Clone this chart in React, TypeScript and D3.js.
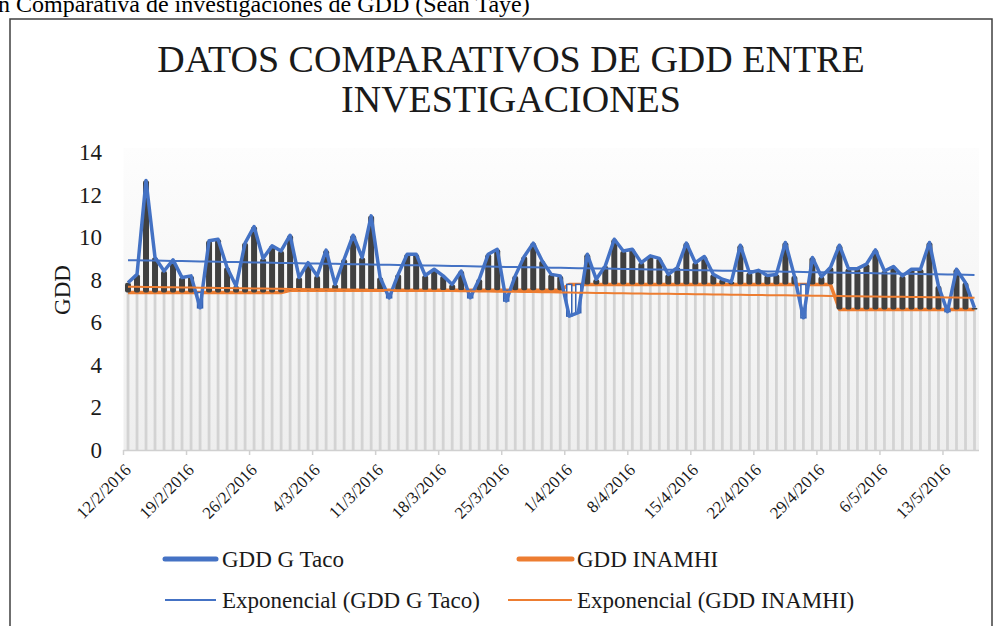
import React from 'react';
import * as d3 from 'd3';

const startDate = new Date(2016, 1, 12);

const tacoValues = [
  7.86, 8.25, 12.66, 9.04, 8.41, 8.93, 8.1, 8.18, 6.68, 9.83,
  9.9, 8.57, 7.7, 9.72, 10.5, 9.0, 9.59, 9.35, 10.09, 8.1,
  8.8, 8.18, 9.39, 7.78, 8.96, 10.09, 9.04, 11.0, 8.1, 7.15,
  8.25, 9.2, 9.2, 8.2, 8.49, 8.18, 7.78, 8.41, 7.15, 8.02,
  9.2, 9.43, 7.0, 8.18, 9.09, 9.72, 8.88, 8.25, 8.18, 6.29,
  6.45, 9.2, 8.02, 8.65, 9.9, 9.35, 9.43, 8.8, 9.12, 9.0,
  8.25, 8.57, 9.72, 8.8, 9.09, 8.25, 8.02, 7.9, 9.62, 8.33,
  8.44, 8.2, 8.25, 9.75, 8.18, 6.21, 9.04, 8.14, 8.57, 9.62,
  8.52, 8.52, 8.73, 9.4, 8.41, 8.62, 8.18, 8.49, 8.49, 9.75,
  7.7, 6.5, 8.49, 7.86, 6.68,
];

const inamhiValues = [
  7.4, 7.4, 7.4, 7.4, 7.4, 7.4, 7.4, 7.4, 7.4, 7.4,
  7.4, 7.4, 7.4, 7.4, 7.4, 7.4, 7.4, 7.4, 7.5, 7.5,
  7.5, 7.5, 7.5, 7.5, 7.5, 7.5, 7.5, 7.5, 7.5, 7.5,
  7.5, 7.5, 7.5, 7.5, 7.5, 7.5, 7.5, 7.5, 7.5, 7.5,
  7.5, 7.5, 7.5, 7.5, 7.5, 7.5, 7.5, 7.5, 7.5, 7.78,
  7.78, 7.78, 7.78, 7.78, 7.78, 7.78, 7.78, 7.78, 7.78, 7.78,
  7.78, 7.78, 7.78, 7.78, 7.78, 7.78, 7.78, 7.78, 7.78, 7.78,
  7.78, 7.78, 7.78, 7.78, 7.78, 7.78, 7.78, 7.78, 7.78, 6.6,
  6.6, 6.6, 6.6, 6.6, 6.6, 6.6, 6.6, 6.6, 6.6, 6.6,
  6.6, 6.6, 6.6, 6.6, 6.6,
];

const tickLabels = [
  '12/2/2016', '19/2/2016', '26/2/2016', '4/3/2016', '11/3/2016', '18/3/2016', '25/3/2016',
  '1/4/2016', '8/4/2016', '15/4/2016', '22/4/2016', '29/4/2016', '6/5/2016', '13/5/2016',
];

const yTicks = [0, 2, 4, 6, 8, 10, 12, 14];

const seriesNames = ['GDD G Taco', 'GDD INAMHI'];
const trendNames = ['Exponencial (GDD G Taco)', 'Exponencial (GDD INAMHI)'];

const BLUE = '#4472C4';
const ORANGE = '#ED7D31';
const FONT = "'Liberation Serif', 'Times New Roman', 'DejaVu Serif', serif";
const tf = { fontFamily: FONT };

function expFit(vals: number[]) {
  const n = vals.length;
  let sx = 0, sy = 0, sxx = 0, sxy = 0;
  vals.forEach((v, i) => {
    const ly = Math.log(v);
    sx += i; sy += ly; sxx += i * i; sxy += i * ly;
  });
  const b = (n * sxy - sx * sy) / (n * sxx - sx * sx);
  const lnA = (sy - b * sx) / n;
  return vals.map((_, i) => Math.exp(lnA + b * i));
}

export default function App() {
  const n = tacoValues.length;
  const x = d3.scaleTime()
    .domain([startDate, d3.timeDay.offset(startDate, n)])
    .range([123.5, 979]);
  const y = d3.scaleLinear().domain([0, 14]).range([450, 152]);
  const dates = tacoValues.map((_, i) => d3.timeHour.offset(d3.timeDay.offset(startDate, i), 12));
  const px = (i: number) => x(dates[i]);

  const line = d3.line<number>().x((_, i) => px(i)).y((v) => y(v));
  const tacoTrend = expFit(tacoValues);
  const inamhiTrend = expFit(inamhiValues);
  const weekTicks = tickLabels.map((_, k) => d3.timeDay.offset(startDate, 7 * k));

  return (
    <svg width={1001} height={626} style={{ position: 'absolute', left: 0, top: 0, background: '#fff', fontFamily: FONT }}>
      <defs>
        <linearGradient id="plotBg" x1="0" y1="0" x2="0" y2="1">
          <stop offset="0" stopColor="#fdfdfd" />
          <stop offset="1" stopColor="#eeeeee" />
        </linearGradient>
      </defs>
      <text x={-2} y={12} fontSize={24} fill="#000" style={tf}>n Comparativa de investigaciones de GDD (Sean Taye)</text>
      <rect x={10} y={19} width={982} height={700} fill="#fff" stroke="#404040" strokeWidth={1.5} />

      <text x={511} y={72} textAnchor="middle" fontSize={38} fill="#1a1a1a" style={tf}>DATOS COMPARATIVOS DE GDD ENTRE</text>
      <text x={511} y={112} textAnchor="middle" fontSize={38} fill="#1a1a1a" style={tf}>INVESTIGACIONES</text>

      <rect x={123.5} y={148} width={979 - 123.5} height={450 - 148} fill="url(#plotBg)" />

      {tacoValues.map((v, i) => (
        <line key={'d' + i} x1={px(i)} x2={px(i)} y1={y(Math.max(v, inamhiValues[i]))} y2={450}
          stroke="#d3d3d3" strokeWidth={2.8} />
      ))}

      <line x1={123.5} x2={979} y1={450.5} y2={450.5} stroke="#d0d0d0" strokeWidth={1.5} />
      {weekTicks.map((d, k) => (
        <line key={'t' + k} x1={x(d)} x2={x(d)} y1={450} y2={455} stroke="#d0d0d0" strokeWidth={1.5} />
      ))}

      <path d={line(inamhiValues) || ''} fill="none" stroke={ORANGE} strokeWidth={3.5} strokeLinejoin="round" />

      {tacoValues.map((v, i) => {
        const o = inamhiValues[i];
        const top = y(Math.max(v, o));
        const bot = y(Math.min(v, o));
        const up = v >= o;
        return up ? (
          <rect key={'b' + i} x={px(i) - 3} y={top} width={6} height={bot - top} rx={2}
            fill="#404040" />
        ) : (
          <rect key={'b' + i} x={px(i) - 2.5} y={top} width={5} height={bot - top}
            fill="#fff" stroke="#3563b3" strokeWidth={1.5} />
        );
      })}

      <path d={line(tacoValues) || ''} fill="none" stroke={BLUE} strokeWidth={3.5} strokeLinejoin="round" />

      <path d={line(tacoTrend) || ''} fill="none" stroke={BLUE} strokeWidth={2} />
      <path d={line(inamhiTrend) || ''} fill="none" stroke={ORANGE} strokeWidth={2} />

      {yTicks.map((t) => (
        <text key={'y' + t} x={102} y={y(t)} dy="0.35em" textAnchor="end" fontSize={23} fill="#1a1a1a" style={tf}>{t}</text>
      ))}
      <text transform="translate(70,290) rotate(-90)" textAnchor="middle" fontSize={23} fill="#1a1a1a" style={tf}>GDD</text>

      {tickLabels.map((lab, k) => (
        <text key={'xl' + k} transform={`translate(${px(7 * k) + 4},471) rotate(-45)`} textAnchor="end"
          fontSize={17} fill="#1a1a1a" style={tf}>{lab}</text>
      ))}

      <line x1={165} x2={216} y1={559} y2={559} stroke={BLUE} strokeWidth={5} strokeLinecap="round" />
      <text x={222} y={567} fontSize={23} fill="#1a1a1a" style={tf}>{seriesNames[0]}</text>
      <line x1={519} x2={572} y1={559} y2={559} stroke={ORANGE} strokeWidth={5} strokeLinecap="round" />
      <text x={577} y={567} fontSize={23} fill="#1a1a1a" style={tf}>{seriesNames[1]}</text>
      <line x1={165} x2={216} y1={600} y2={600} stroke={BLUE} strokeWidth={2} />
      <text x={222} y={608} fontSize={23} fill="#1a1a1a" style={tf}>{trendNames[0]}</text>
      <line x1={508} x2={572} y1={600} y2={600} stroke={ORANGE} strokeWidth={2} />
      <text x={577} y={608} fontSize={23} fill="#1a1a1a" style={tf}>{trendNames[1]}</text>
    </svg>
  );
}
